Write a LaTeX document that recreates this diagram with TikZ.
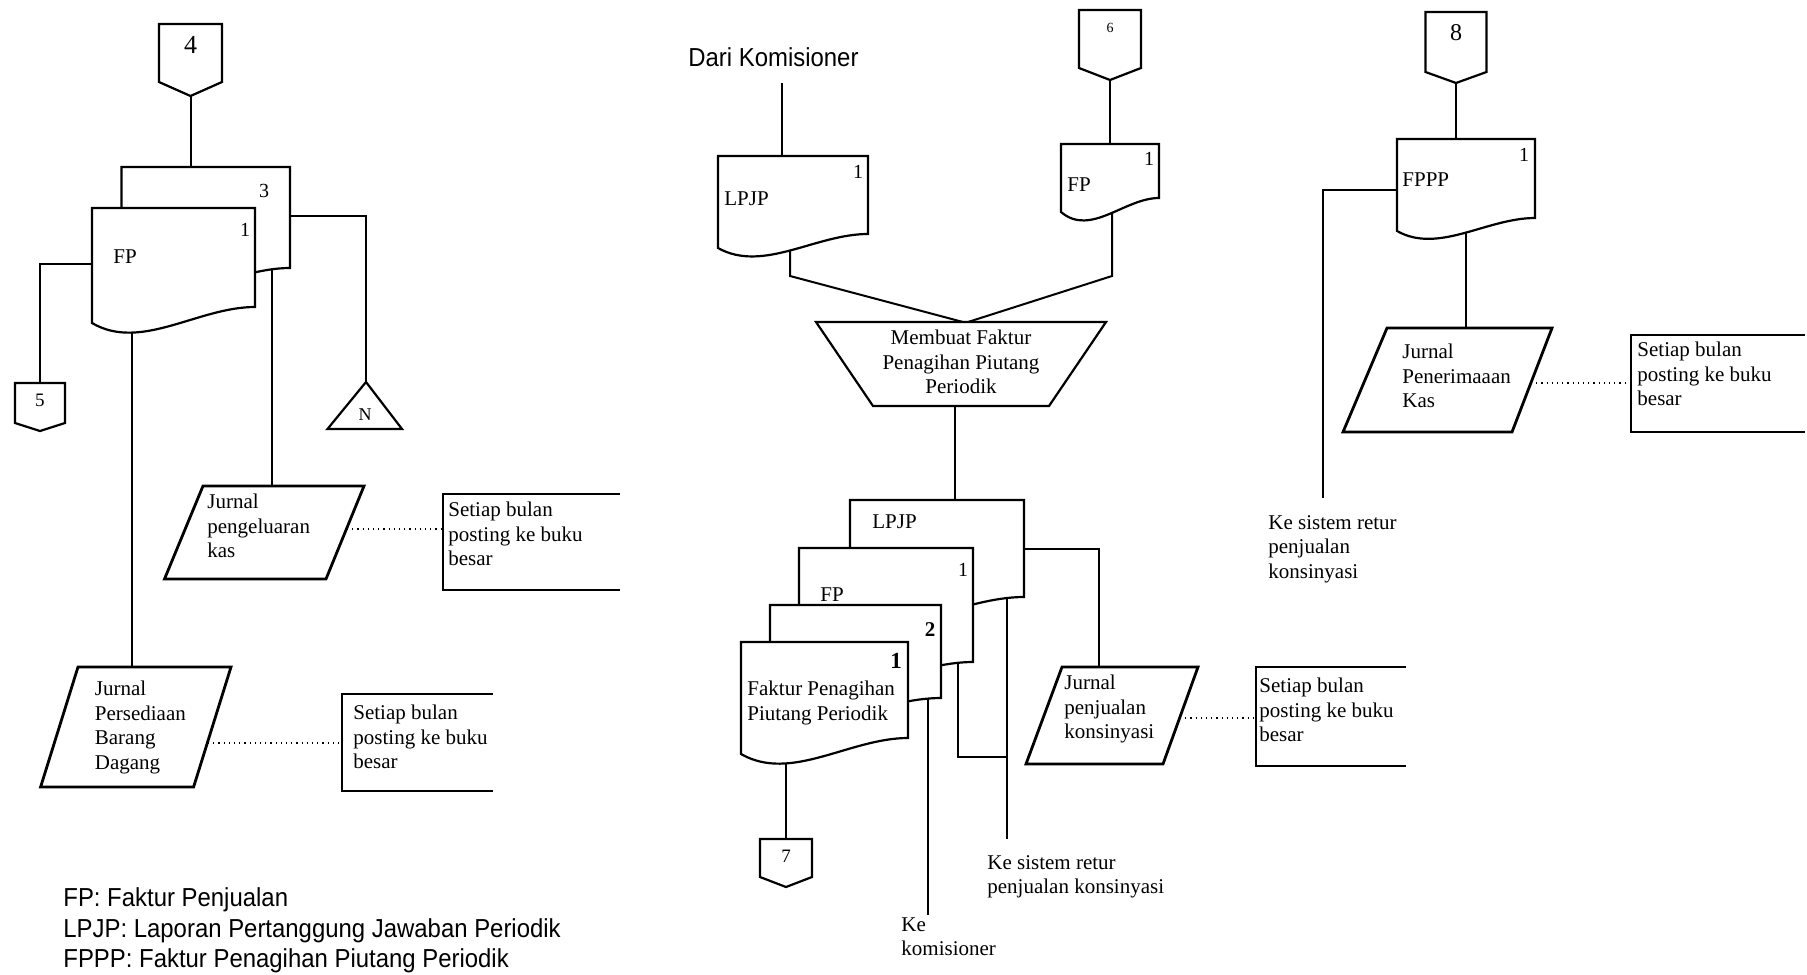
\documentclass[tikz,border=0pt]{standalone}
\usepackage{fontspec}
\setmainfont{Liberation Serif}
\newfontfamily\sansleg[FakeStretch=0.92]{Liberation Sans}
% document symbol: x0, top, x1, y of right bottom corner, y of left bottom corner
\newcommand\docshape[5]{%
  \draw[shp] (#1,#2) -- (#3,#2) -- (#3,#4)
    .. controls ({#1+0.65*(#3-#1)},#4) and ({#1+0.3*(#3-#1)},{#5+1.8*(#5-#4)}) .. (#1,#5) -- cycle;}
% off-page connector: centre x, top, side bottom, tip, half width
\newcommand\offpage[5]{%
  \draw[shp] ({#1-#5},#2) -- ({#1+#5},#2) -- ({#1+#5},#3) -- (#1,#4) -- ({#1-#5},#3) -- cycle;}
\begin{document}
\begin{tikzpicture}[x=0.5pt,y=-0.5pt,
  shp/.style={draw=black, line width=1.1pt, fill=white, line join=miter},
  jshp/.style={draw=black, line width=1.4pt, fill=white},
  link/.style={draw=black, line width=1pt},
  dots/.style={draw=black, dotted, line width=0.6pt},
  openbox/.style={draw=black, line width=1.1pt},
  txt/.style={font=\fontsize{10.5}{12.25}\selectfont, inner sep=0pt, anchor=north west, align=left},
  doclbl/.style={font=\fontsize{10.5}{12.25}\selectfont, inner sep=0pt, anchor=west},
  num/.style={inner sep=0pt},
  leg/.style={font=\sansleg\fontsize{13}{15}\selectfont, inner sep=0pt, anchor=base west}]
\useasboundingbox (0,0) rectangle (1807,974);
\fill[white] (0,0) rectangle (1807,974);

% ---------- connection points ----------
\coordinate (c4tip) at (190.5,96);
\coordinate (d3top) at (190.5,167);
\coordinate (d1left) at (92,264);
\coordinate (c5top) at (40,383);
\coordinate (d3right) at (290,216);
\coordinate (napex) at (366,382);
\coordinate (d1bot) at (132,320);
\coordinate (jpbdtop) at (132,667);
\coordinate (d3bot) at (272,262);
\coordinate (jpktop) at (272,486);
\coordinate (jpkR) at (347,529);
\coordinate (box1L) at (443,529);
\coordinate (jpbdR) at (208,743);
\coordinate (box2L) at (342,743);
\coordinate (dkend) at (782,83);
\coordinate (lpjptop) at (782,156);
\coordinate (lpjpbot) at (790,245);
\coordinate (lpjpbend) at (790,276);
\coordinate (trapinA) at (963,322);
\coordinate (c6tip) at (1110,80);
\coordinate (fptop) at (1110,144);
\coordinate (fpbot) at (1112,210);
\coordinate (fpbend) at (1112,276);
\coordinate (trapinB) at (968,322);
\coordinate (trapbot) at (955,406);
\coordinate (lpjpbtop) at (955,500);
\coordinate (lpjpbright) at (1024,549);
\coordinate (jpktop2) at (1099,667);
\coordinate (jpkR2) at (1180,718);
\coordinate (box3L) at (1256,718);
\coordinate (lpjpbbot) at (1007,590);
\coordinate (returA) at (1007,839);
\coordinate (fpbbot) at (958,655);
\coordinate (fpbbend) at (958,757);
\coordinate (fpbjoin) at (1007,757);
\coordinate (doc2bot) at (928,690);
\coordinate (komend) at (928,915);
\coordinate (fakbot) at (786,750);
\coordinate (c7top) at (786,839);
\coordinate (c8tip) at (1456,83);
\coordinate (fppptop) at (1456,139);
\coordinate (fpppleft) at (1397,190);
\coordinate (returB) at (1323,498);
\coordinate (fpppbot) at (1466,225);
\coordinate (jpktop3) at (1466,328);
\coordinate (jpkR3) at (1531,383);
\coordinate (box4L) at (1631,383);

% ---------- connectors ----------
\draw[link] (c4tip) -- (d3top);
\draw[link] (d1left) -| (c5top);
\draw[link] (d3right) -| (napex);
\draw[link] (d1bot) -- (jpbdtop);
\draw[link] (d3bot) -- (jpktop);
\draw[dots] (jpkR) -- (box1L);
\draw[dots] (jpbdR) -- (box2L);
\draw[link] (dkend) -- (lpjptop);
\draw[link] (lpjpbot) -- (lpjpbend) -- (trapinA);
\draw[link] (c6tip) -- (fptop);
\draw[link] (fpbot) -- (fpbend) -- (trapinB);
\draw[link] (trapbot) -- (lpjpbtop);
\draw[link] (lpjpbright) -| (jpktop2);
\draw[dots] (jpkR2) -- (box3L);
\draw[link] (lpjpbbot) -- (returA);
\draw[link] (fpbbot) -- (fpbbend) -- (fpbjoin);
\draw[link] (doc2bot) -- (komend);
\draw[link] (fakbot) -- (c7top);
\draw[link] (c8tip) -- (fppptop);
\draw[link] (fpppleft) -| (returB);
\draw[link] (fpppbot) -- (jpktop3);
\draw[dots] (jpkR3) -- (box4L);

% ---------- left column ----------
\offpage{190.5}{24}{82}{96}{31.5}
\node[num, font=\fontsize{13}{14}\selectfont] (n4) at (190.5,45) {4};
\docshape{121.5}{167}{290}{268}{284}
\node[num, font=\fontsize{10}{12}\selectfont] (n3) at (264,191) {3};
\docshape{92}{208}{255}{307}{323}
\node[num, font=\fontsize{10}{12}\selectfont] (n1a) at (245,230) {1};
\node[doclbl] (fp1) at (113,257) {FP};
\offpage{40}{383}{423}{431}{25}
\node[num, font=\fontsize{9.5}{12}\selectfont] (n5) at (40,400) {5};
\draw[shp] (napex) -- (402,429) -- (327.5,429) -- cycle;
\node[num, font=\fontsize{9}{12}\selectfont] (nN) at (365,415) {N};

\draw[jshp] (203,486) -- (364,486) -- (326,579) -- (164.5,579) -- cycle;
\node[txt] (jpk) at (207,494) {Jurnal\\pengeluaran\\kas};
\draw[openbox] (620,494) -- (443,494) -- (443,590) -- (620,590);
\node[txt] (sb1) at (448,502) {Setiap bulan\\posting ke buku\\besar};

\draw[jshp] (78,667) -- (231,667) -- (193.6,787) -- (40.6,787) -- cycle;
\node[txt] (jpbd) at (94.5,681) {Jurnal\\Persediaan\\Barang\\Dagang};
\draw[openbox] (493,694) -- (342,694) -- (342,791) -- (493,791);
\node[txt] (sb2) at (353,705) {Setiap bulan\\posting ke buku\\besar};

\node[leg] (leg1) at (63,906) {FP: Faktur Penjualan};
\node[leg] (leg2) at (63,937) {LPJP: Laporan Pertanggung Jawaban Periodik};
\node[leg] (leg3) at (63,967) {FPPP: Faktur Penagihan Piutang Periodik};

% ---------- middle column ----------
\node[font=\sansleg\fontsize{13}{15}\selectfont, inner sep=0pt, anchor=base west] (dk) at (688,67) {Dari Komisioner};
\docshape{718}{156}{868}{234}{248}
\node[num, font=\fontsize{10}{12}\selectfont] (n1b) at (858,172) {1};
\node[doclbl] (lpjp1) at (724,199) {LPJP};
\offpage{1110}{10}{68}{80}{31}
\node[num, font=\fontsize{7}{8}\selectfont] (n6) at (1110,28) {6};
\docshape{1061}{144}{1159}{198}{212}
\node[num, font=\fontsize{10}{12}\selectfont] (n1c) at (1149,159) {1};
\node[doclbl] (fp2) at (1067,185) {FP};
\draw[shp] (816,322) -- (1106,322) -- (1049,406) -- (873,406) -- cycle;
\node[txt, anchor=north, align=center] (proc) at (961,330) {Membuat Faktur\\Penagihan Piutang\\Periodik};

\docshape{850}{500}{1024}{597}{612}
\node[doclbl] (lpjp2) at (872,522) {LPJP};
\docshape{799}{548}{973}{662}{677}
\node[num, font=\fontsize{10}{12}\selectfont] (n1d) at (963,570) {1};
\node[doclbl] (fp3) at (820,595) {FP};
\docshape{770}{605}{941}{698}{712}
\node[num, font=\fontsize{10.5}{12}\selectfont\bfseries] (n2) at (930,630) {2};
\docshape{741}{642}{908}{738}{754}
\node[num, font=\fontsize{11.5}{12}\selectfont\bfseries] (n1e) at (896,661) {1};
\node[txt] (fakt) at (747,681) {Faktur Penagihan\\Piutang Periodik};
\offpage{786}{839}{877}{887}{26}
\node[num, font=\fontsize{9.5}{12}\selectfont] (n7) at (786,856) {7};
\node[txt] (kom) at (901,917) {Ke\\komisioner};
\node[txt] (retA) at (987,855) {Ke sistem retur\\penjualan konsinyasi};

\draw[jshp] (1062,667) -- (1198,667) -- (1163,764) -- (1026,764) -- cycle;
\node[txt] (jpkons) at (1064,675) {Jurnal\\penjualan\\konsinyasi};
\draw[openbox] (1406,667) -- (1256,667) -- (1256,766) -- (1406,766);
\node[txt] (sb3) at (1259,678) {Setiap bulan\\posting ke buku\\besar};

% ---------- right column ----------
\offpage{1456}{12}{72}{83}{30.5}
\node[num, font=\fontsize{12}{14}\selectfont] (n8) at (1456,33) {8};
\docshape{1397}{139}{1535}{218}{231}
\node[num, font=\fontsize{10}{12}\selectfont] (n1f) at (1524,155) {1};
\node[doclbl] (fppp) at (1402,180) {FPPP};
\node[txt] (retB) at (1268,515) {Ke sistem retur\\penjualan\\konsinyasi};
\draw[jshp] (1387,328) -- (1552,328) -- (1512,432) -- (1343,432) -- cycle;
\node[txt] (jpkas) at (1402,344) {Jurnal\\Penerimaaan\\Kas};
\draw[openbox] (1805,335) -- (1631,335) -- (1631,432) -- (1805,432);
\node[txt] (sb4) at (1637,342) {Setiap bulan\\posting ke buku\\besar};
\end{tikzpicture}
\end{document}
